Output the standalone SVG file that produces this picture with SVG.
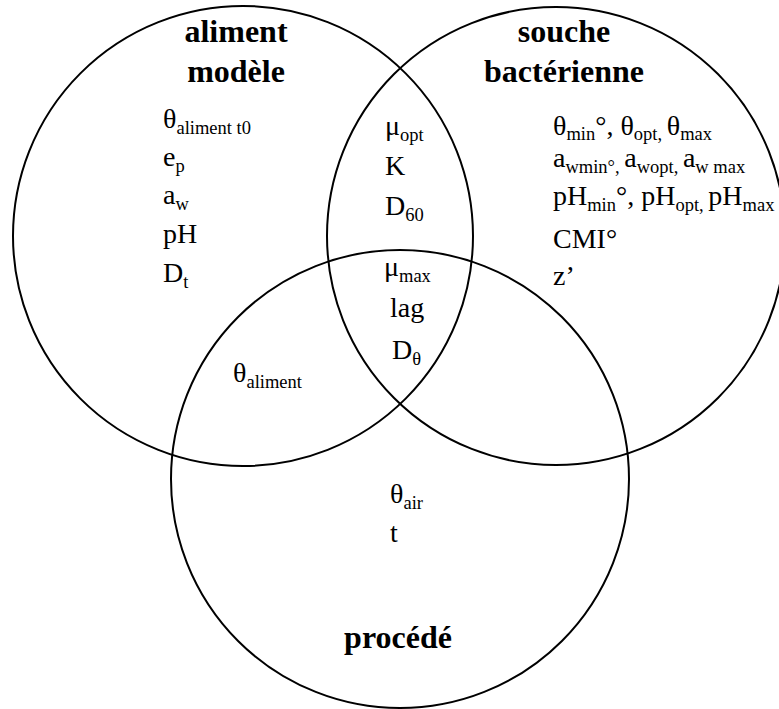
<svg xmlns="http://www.w3.org/2000/svg" width="779" height="709" viewBox="0 0 779 709">
<style>
  .c { fill: none; stroke: #000; stroke-width: 2; }
  .t { font-family: "Liberation Serif", "Times New Roman", serif; font-size: 28px; fill: #000; }
  .h { font-family: "Liberation Serif", "Times New Roman", serif; font-size: 32px; font-weight: bold; fill: #000; text-anchor: middle; }
  .s { font-size: 18.5px; }
</style>
<rect width="779" height="709" fill="#fff"/>
<g id="circles">
  <circle id="aliment-circle" class="c" cx="243" cy="236" r="230"/>
  <circle id="souche-circle" class="c" cx="556" cy="236" r="229"/>
  <circle id="procede-circle" class="c" cx="400" cy="479" r="229"/>
</g>
<g id="aliment">
  <text class="h" x="236" y="42">aliment</text>
  <text class="h" x="236" y="82">modèle</text>
  <text class="t" x="163" y="128">θ<tspan class="s" dy="6">aliment t0</tspan></text>
  <text class="t" x="163" y="166">e<tspan class="s" dy="6">p</tspan></text>
  <text class="t" x="163" y="204">a<tspan class="s" dy="6">w</tspan></text>
  <text class="t" x="163" y="243">pH</text>
  <text class="t" x="163" y="282">D<tspan class="s" dy="6">t</tspan></text>
</g>
<g id="souche">
  <text class="h" x="564" y="42">souche</text>
  <text class="h" x="564" y="82">bactérienne</text>
  <text class="t" x="553" y="135">θ<tspan class="s" dy="5">min</tspan><tspan dy="-5">°, θ</tspan><tspan class="s" dy="5">opt, </tspan><tspan dy="-5">θ</tspan><tspan class="s" dy="5">max</tspan></text>
  <text class="t" x="553" y="167">a<tspan class="s" dy="6">wmin°, </tspan><tspan dy="-6">a</tspan><tspan class="s" dy="6">wopt, </tspan><tspan dy="-6">a</tspan><tspan class="s" dy="6">w max</tspan></text>
  <text class="t" x="553" y="205">pH<tspan class="s" dy="6">min</tspan><tspan dy="-6">°, pH</tspan><tspan class="s" dy="6">opt, </tspan><tspan dy="-6">pH</tspan><tspan class="s" dy="6">max</tspan></text>
  <text class="t" x="553" y="248">CMI°</text>
  <text class="t" x="553" y="285">z’</text>
</g>
<g id="aliment-souche">
  <text class="t" x="385" y="135">μ<tspan class="s" dy="6">opt</tspan></text>
  <text class="t" x="385" y="175">K</text>
  <text class="t" x="385" y="215">D<tspan class="s" dy="6">60</tspan></text>
</g>
<g id="center">
  <text class="t" x="384" y="276">μ<tspan class="s" dy="6">max</tspan></text>
  <text class="t" x="390" y="317">lag</text>
  <text class="t" x="392" y="359">D<tspan class="s" dy="6">θ</tspan></text>
</g>
<g id="aliment-procede">
  <text class="t" x="233" y="382">θ<tspan class="s" dy="6">aliment</tspan></text>
</g>
<g id="procede">
  <text class="t" x="390" y="503">θ<tspan class="s" dy="6">air</tspan></text>
  <text class="t" x="390" y="542">t</text>
  <text class="h" x="398" y="648">procédé</text>
</g>
</svg>
